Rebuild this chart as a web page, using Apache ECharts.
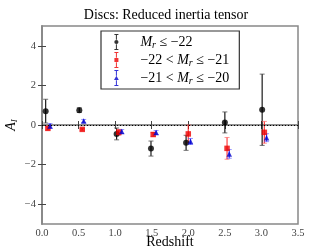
<!DOCTYPE html>
<html><head><meta charset="utf-8">
<script src="https://cdn.jsdelivr.net/npm/echarts@6/dist/echarts.min.js"></script>
<style>html,body{margin:0;padding:0;background:#fff}#c{width:332px;height:249px}</style>
</head><body><div id="c"></div>
<script>
// Data
var blackX = [0.05, 0.51, 1.02, 1.49, 1.97, 2.50, 3.01];
var blackY = [0.70, 0.75, -0.45, -1.19, -0.90, 0.13, 0.77];
var blackErr = [0.60, 0.12, 0.30, 0.38, 0.38, 0.53, 1.80];

var redX = [0.08, 0.55, 1.05, 1.52, 2.00, 2.53, 3.04];
var redY = [-0.17, -0.22, -0.37, -0.48, -0.45, -1.18, -0.37];
var redErr = [0.08, 0.04, 0.15, 0.10, 0.45, 0.55, 0.55];

var blueX = [0.11, 0.57, 1.09, 1.56, 2.03, 2.56, 3.07];
var blueY = [-0.05, 0.20, -0.33, -0.38, -0.83, -1.46, -0.64];
var blueErr = [0.12, 0.08, 0.10, 0.10, 0.15, 0.22, 0.20];

var xTicks = [0, 0.5, 1, 1.5, 2, 2.5, 3, 3.5];
var yTicks = [-4, -2, 0, 2, 4];

var names = ['Mr \u2264 \u221222', '\u221222 < Mr \u2264 \u221221', '\u221221 < Mr \u2264 \u221220'];
var richNames = {};
richNames[names[0]] = '{i|M}{s|r}{n| \u2264 \u221222}';
richNames[names[1]] = '{n|\u221222 < }{i|M}{s|r}{n| \u2264 \u221221}';
richNames[names[2]] = '{n|\u221221 < }{i|M}{s|r}{n| \u2264 \u221220}';

var FONT = 'Liberation Serif';

function pts(xs, ys) { return xs.map(function (x, i) { return [x, ys[i]]; }); }
function errs(xs, ys, es) { return xs.map(function (x, i) { return [x, ys[i] - es[i], ys[i] + es[i]]; }); }

function errSeries(data, color, capColor) {
  return {
    type: 'custom', name: 'err', data: data, z: 2,
    encode: { x: 0, y: [1, 2] },
    renderItem: function (params, api) {
      var x = api.value(0);
      var lo = api.coord([x, api.value(1)]);
      var hi = api.coord([x, api.value(2)]);
      var w = 2.5;
      return {
        type: 'group', children: [
          { type: 'line', shape: { x1: lo[0], y1: lo[1], x2: hi[0], y2: hi[1] }, style: { stroke: color, lineWidth: 1.2 } },
          { type: 'line', shape: { x1: lo[0] - w, y1: lo[1], x2: lo[0] + w, y2: lo[1] }, style: { stroke: capColor, lineWidth: 1 } },
          { type: 'line', shape: { x1: hi[0] - w, y1: hi[1], x2: hi[0] + w, y2: hi[1] }, style: { stroke: capColor, lineWidth: 1 } }
        ]
      };
    }
  };
}

var stemTop = 'M3.5,0 L4.5,0 L4.5,5.8 L3.5,5.8 Z M3.5,10.2 L4.5,10.2 L4.5,16 L3.5,16 Z M2,0 L6,0 L6,1 L2,1 Z M2,15 L6,15 L6,16 L2,16 Z ';
var iconCircle = 'path://' + stemTop + 'M1.9,8 A2.1,2.1 0 1 1 6.1,8 A2.1,2.1 0 1 1 1.9,8 Z';
var iconSquare = 'path://' + stemTop + 'M2,6 L6,6 L6,10 L2,10 Z';
var iconTri = 'path://' + stemTop + 'M1.6,10 L4,5.8 L6.4,10 Z';

var tickLabel = { fontFamily: FONT, fontSize: 10.5, color: '#444' };
var axisLineStyle = { lineStyle: { color: '#888', width: 1.5 } };

var chart = echarts.init(document.getElementById('c'), null, { renderer: 'canvas' });
chart.setOption({
  animation: false,
  backgroundColor: '#fff',
  title: {
    text: 'Discs: Reduced inertia tensor', left: 'center', top: 3,
    textStyle: { fontFamily: FONT, fontSize: 14, fontWeight: 'normal', color: '#000' }
  },
  grid: { left: 42, right: 34, top: 26, bottom: 25, containLabel: false, outerBoundsMode: 'none', show: true, borderColor: '#888', borderWidth: 1.5, backgroundColor: 'transparent' },
  legend: {
    orient: 'vertical', left: 101, top: 31, itemWidth: 8, itemHeight: 16, itemGap: 2,
    padding: [3, 10, 3, 13], borderColor: '#333', borderWidth: 1.2, backgroundColor: '#fff',
    data: [
      { name: names[0], icon: iconCircle },
      { name: names[1], icon: iconSquare },
      { name: names[2], icon: iconTri }
    ],
    formatter: function (n) { return richNames[n]; },
    textStyle: {
      padding: [0, 0, 0, 15],
      rich: {
        n: { fontFamily: FONT, fontSize: 14, color: '#000' },
        i: { fontFamily: FONT, fontSize: 14, fontStyle: 'italic', color: '#000' },
        s: { fontFamily: FONT, fontSize: 10, fontStyle: 'italic', color: '#000', padding: [6, 0, 0, 0] }
      }
    }
  },
  xAxis: [{
    type: 'value', min: 0, max: 3.5, interval: 0.5,
    name: 'Redshift', nameLocation: 'middle', nameGap: 11, nameMoveOverlap: false,
    nameTextStyle: { fontFamily: FONT, fontSize: 14, color: '#000' },
    axisLine: axisLineStyle,
    axisTick: { inside: true, length: 4, lineStyle: { color: '#444' } },
    axisLabel: Object.assign({ margin: 4, formatter: function (v) { return v.toFixed(1); } }, tickLabel),
    splitLine: { show: false }
  }, {
    type: 'value', min: 0, max: 3.5, interval: 0.5, position: 'top',
    axisLine: axisLineStyle,
    axisTick: { inside: true, length: 4, lineStyle: { color: '#444' } },
    axisLabel: { show: false }, splitLine: { show: false }
  }],
  yAxis: [{
    type: 'value', min: -5, max: 5,
    name: '{i|A}{s|I}', nameLocation: 'middle', nameGap: 23, nameRotate: 90, nameMoveOverlap: false,
    nameTextStyle: {
      rich: {
        i: { fontFamily: FONT, fontSize: 14, fontStyle: 'italic', color: '#000' },
        s: { fontFamily: FONT, fontSize: 9, fontStyle: 'italic', color: '#000', padding: [6, 0, 0, 0] }
      }
    },
    axisLine: axisLineStyle,
    axisTick: { inside: true, length: 4, customValues: yTicks, lineStyle: { color: '#444' } },
    axisLabel: Object.assign({ margin: 6, customValues: yTicks, formatter: function (v) { return v < 0 ? '\u2212' + Math.abs(v) : String(v); } }, tickLabel),
    splitLine: { show: false }
  }, {
    type: 'value', min: -5, max: 5, position: 'right',
    axisLine: axisLineStyle,
    axisTick: { inside: true, length: 4, customValues: yTicks, lineStyle: { color: '#444' } },
    axisLabel: { show: false }, splitLine: { show: false }
  }],
  series: [
    errSeries(errs(blackX, blackY, blackErr), 'rgba(0,0,0,0.9)', 'rgba(80,80,80,0.8)'),
    errSeries(errs(redX, redY, redErr), 'rgba(255,0,0,0.75)', 'rgba(255,80,80,0.6)'),
    errSeries(errs(blueX, blueY, blueErr), 'rgba(0,0,255,0.75)', 'rgba(80,80,255,0.6)'),
    {
      type: 'scatter', name: names[0], data: pts(blackX, blackY), symbol: 'circle', symbolSize: 6,
      itemStyle: { color: '#000' }, z: 3,
      markLine: {
        silent: true, symbol: 'none', label: { show: false },
        lineStyle: { color: '#000', type: [1, 2], width: 1 },
        data: [{ yAxis: 0 }]
      }
    },
    { type: 'scatter', name: names[1], data: pts(redX, redY), symbol: 'rect', symbolSize: 5.5, itemStyle: { color: '#e00' }, z: 3 },
    { type: 'scatter', name: names[2], data: pts(blueX, blueY), symbol: 'triangle', symbolSize: 5.5, itemStyle: { color: '#00c' }, z: 3 }
  ]
});
</script></body></html>
